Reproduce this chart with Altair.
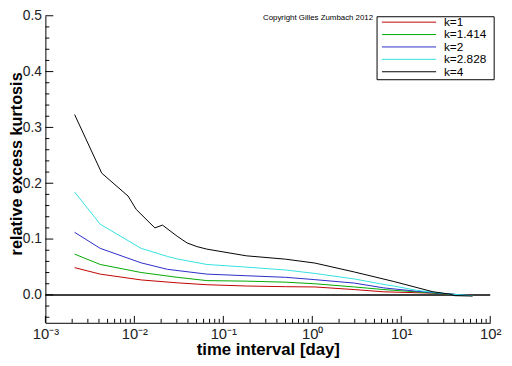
import altair as alt
import pandas as pd

series = ["k=1", "k=1.414", "k=2", "k=2.828", "k=4"]
colors = ["#c00000", "#00a800", "#2a2ac8", "#33e0e0", "#000000"]

x_k1 = [0.00213, 0.00413, 0.0119, 0.0303, 0.0652, 0.181, 0.500, 1.07, 2.97, 6.38, 22.8, 63.2]
y_k1 = [0.0488, 0.0372, 0.0268, 0.0216, 0.0182, 0.0159, 0.0147, 0.0142, 0.0095, 0.0055, 0.0031, -0.0009]

x_k1414 = [0.00213, 0.00413, 0.0119, 0.0303, 0.0652, 0.181, 0.500, 1.07, 2.97, 6.38, 29.4, 63.2]
y_k1414 = [0.0730, 0.0545, 0.0401, 0.0315, 0.0256, 0.0246, 0.0228, 0.0199, 0.0142, 0.0095, 0.0021, -0.0014]

x_k2 = [0.00213, 0.00413, 0.0119, 0.0235, 0.0652, 0.181, 0.500, 1.07, 2.97, 6.38, 14.8, 29.4, 63.2]
y_k2 = [0.1121, 0.0834, 0.0574, 0.0458, 0.0372, 0.0343, 0.0315, 0.0273, 0.0211, 0.0125, 0.0066, 0.0026, -0.0014]

x_k2828 = [0.00213, 0.00413, 0.0119, 0.0235, 0.0303, 0.0652, 0.181, 0.500, 1.07, 2.97, 6.38, 8.24, 14.8, 35.2, 63.2]
y_k2828 = [0.1843, 0.1266, 0.0834, 0.0689, 0.0644, 0.0545, 0.0498, 0.0446, 0.0384, 0.0285, 0.0187, 0.0159, 0.0083, 0.0014, -0.0014]

x_k4 = [0.00213, 0.0043, 0.0085, 0.0105, 0.0170, 0.0207, 0.0303, 0.0392, 0.0505, 0.0652, 0.181, 0.500, 1.07, 2.97, 8.24, 22.8, 35.2, 40.0, 63.2]
y_k4 = [0.323, 0.218, 0.177, 0.153, 0.120, 0.125, 0.105, 0.093, 0.0865, 0.082, 0.070, 0.064, 0.057, 0.041, 0.024, 0.0055, 0.0014, -0.0014, -0.0021]

y_major = [0.0, 0.1, 0.2, 0.3, 0.4, 0.5]
y_minor = [-0.04, -0.02, 0.02, 0.04, 0.06, 0.08, 0.12, 0.14, 0.16, 0.18, 0.22, 0.24, 0.26, 0.28,
           0.32, 0.34, 0.36, 0.38, 0.42, 0.44, 0.46, 0.48]
x_major = [0.001, 0.01, 0.1, 1, 10, 100]
x_minor = [m * d for d in [0.001, 0.01, 0.1, 1, 10] for m in range(2, 10)]

rows = []
for name, xs, ys in zip(series, [x_k1, x_k1414, x_k2, x_k2828, x_k4],
                        [y_k1, y_k1414, y_k2, y_k2828, y_k4]):
    for i, (a, b) in enumerate(zip(xs, ys)):
        rows.append({"series": name, "t": a, "v": b, "order": i})
df = pd.DataFrame(rows)

W, H = 452, 312
font = "Liberation Sans"

xscale = alt.Scale(type="log", domain=[0.001, 100], nice=False)
yscale = alt.Scale(domain=[-0.05, 0.5], nice=False, zero=False)
cscale = alt.Scale(domain=series, range=colors)

labexpr = "'10' + ['\u207b\u00b3','\u207b\u00b2','\u207b\u00b9','\u2070','\u00b9','\u00b2'][round(log(datum.value)/LN10)+3]"

xaxis = alt.Axis(values=x_major, labelExpr=labexpr, ticks=False, grid=False, title="time interval [day]",
                 labelFontSize=15, labelFont=font, labelColor="#222", labelPadding=4,
                 titleFontSize=17, titleFont=font, titleFontWeight="bold", titlePadding=0,
                 domainColor="black", labelFlush=False)
yaxis = alt.Axis(values=y_major, format=".1f", ticks=False, grid=False, title="relative excess kurtosis",
                 labelFontSize=14, labelFont=font, labelColor="#222", labelPadding=4,
                 titleFontSize=16.5, titleFont=font, titleFontWeight="bold",
                 titleX=-24, titleY=150, titleAlign="center", titleBaseline="alphabetic",
                 domainColor="black")

def X(field):
    return alt.X(field, type="quantitative", scale=xscale, axis=xaxis)

def Y(field):
    return alt.Y(field, type="quantitative", scale=yscale, axis=yaxis)

lines = alt.Chart(df).mark_line(strokeWidth=1).encode(
    x=X("t"), y=Y("v"), order="order:Q",
    color=alt.Color("series:N", scale=cscale, legend=None))

zero = alt.Chart(pd.DataFrame({"z": [0.0]})).mark_rule(color="black", strokeWidth=1.5).encode(y=Y("z"))

ytmaj = alt.Chart(pd.DataFrame({"v": y_major})).mark_rule(color="black").encode(
    y=Y("v"), x=alt.value(0), x2=alt.value(8))
ytmin = alt.Chart(pd.DataFrame({"v": y_minor})).mark_rule(color="black").encode(
    y=Y("v"), x=alt.value(0), x2=alt.value(4))
xtmaj = alt.Chart(pd.DataFrame({"t": x_major})).mark_rule(color="black").encode(
    x=X("t"), y=alt.value(H), y2=alt.value(H - 7))
xtmin = alt.Chart(pd.DataFrame({"t": x_minor})).mark_rule(color="black").encode(
    x=X("t"), y=alt.value(H), y2=alt.value(H - 4))

copy = alt.Chart(pd.DataFrame({"s": ["Copyright Gilles Zumbach 2012"]})).mark_text(
    align="right", baseline="middle", fontSize=8, font=font, color="black").encode(
    text="s:N", x=alt.value(333), y=alt.value(2))

# legend (drawn by hand so rows stay compact)
leg_df = pd.DataFrame({"series": series, "row": list(range(len(series)))})
leg_box = alt.Chart(pd.DataFrame({"a": [0]})).mark_rect(fill="white", stroke="black", strokeWidth=1).encode(
    x=alt.value(337), x2=alt.value(456), y=alt.value(1), y2=alt.value(65))
leg_lines = alt.Chart(leg_df).transform_calculate(py="6.5 + 12.6 * datum.row").mark_rule(strokeWidth=1).encode(
    y=alt.Y("py:Q", scale=None, axis=None), x=alt.value(342), x2=alt.value(397),
    color=alt.Color("series:N", scale=cscale, legend=None))
leg_text = alt.Chart(leg_df).transform_calculate(py="6.5 + 12.6 * datum.row").mark_text(
    align="left", baseline="middle", fontSize=12, font=font, color="black").encode(
    y=alt.Y("py:Q", scale=None, axis=None), x=alt.value(405), text="series:N")

chart = alt.layer(zero, lines, ytmaj, ytmin, xtmaj, xtmin, copy, leg_box, leg_lines, leg_text).properties(
    width=W, height=H,
    autosize=alt.AutoSizeParams(type="none"),
    padding={"left": 38, "top": 5, "right": 14, "bottom": 40},
).configure_view(stroke=None)

chart.save("out.html", embed_options={"renderer": "svg", "actions": False})
